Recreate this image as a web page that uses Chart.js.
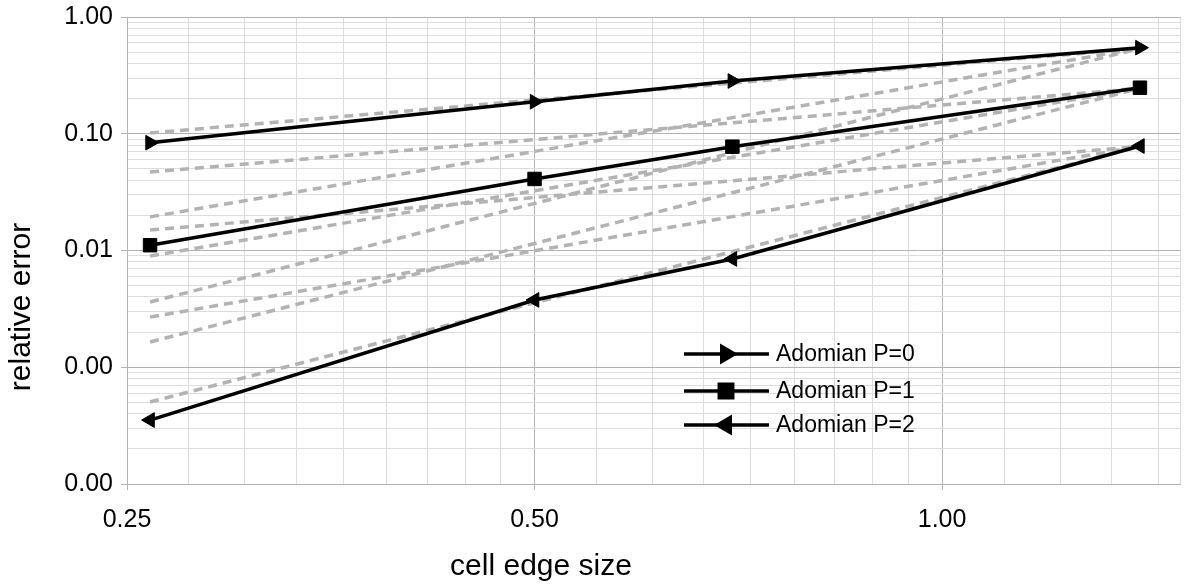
<!DOCTYPE html>
<html>
<head>
<meta charset="utf-8">
<script src="https://cdn.jsdelivr.net/npm/chart.js@4.4.1/dist/chart.umd.min.js"></script>
<style>
    html, body { margin: 0; padding: 0; background: #fff; }
    #grafico { display: block; }
</style>
</head>
<body>
<canvas id="grafico" width="1191" height="586"></canvas>
<script>
// datos
const tamanoCelda = [0.26, 0.5, 0.7, 1.4];
const errorP0 = [0.0838, 0.188, 0.283, 0.546];
const errorP1 = [0.0111, 0.0410, 0.0775, 0.248];
const errorP2 = [0.000353, 0.00377, 0.00846, 0.0785];
const nombres = ["Adomian P=0", "Adomian P=1", "Adomian P=2"];

// lineas de referencia (gris, discontinuas): valor en x=0.26 y en x=1.4
const xRef = [0.26, 1.4];
const refA = [0.1015, 0.54];
const refB = [0.0194, 0.54];
const refC = [0.00362, 0.54];
const refD = [0.0470, 0.245];
const refE = [0.00898, 0.245];
const refF = [0.001645, 0.245];
const refG = [0.0150, 0.078];
const refH = [0.00269, 0.078];
const refI = [0.000504, 0.078];

// ejes
const limitesX = [0.25, 1.5];
const limitesY = [0.0001, 1];
const ticksX = [0.25, 0.5, 1.0];
const etiquetasX = ["0.25", "0.50", "1.00"];
const ticksY = [0.0001, 0.001, 0.01, 0.1, 1];
const etiquetasY = ["0.00", "0.00", "0.01", "0.10", "1.00"];

const fuente = "'Liberation Sans', Arial, sans-serif";
const GRIS_MAYOR = "#b3b3b3";
const GRIS_MENOR = "#dddddd";

function puntos(xs, ys) {
    return xs.map((x, i) => ({ x, y: ys[i] }));
}

// ticks del eje x: mayores + 8 intermedios por octava (como LibreOffice)
function construirTicksX() {
    const t = [];
    ticksX.forEach((v, i) => {
        t.push({ value: v, major: true, etiqueta: etiquetasX[i] });
        for (let k = 1; k <= 8; k++) {
            const m = v * (1 + k / 9);
            if (m < limitesX[1]) t.push({ value: m, major: false, etiqueta: "" });
        }
    });
    t.push({ value: limitesX[1], major: false, etiqueta: "" });
    return t.sort((a, b) => a.value - b.value);
}

function construirTicksY() {
    const t = [];
    ticksY.forEach((v, i) => {
        t.push({ value: v, major: true, etiqueta: etiquetasY[i] });
        if (i < ticksY.length - 1) {
            for (let k = 2; k <= 9; k++) t.push({ value: v * k, major: false, etiqueta: "" });
        }
    });
    return t.sort((a, b) => a.value - b.value);
}

const lineaRef = (xs, ys) => ({
    data: puntos(xs, ys),
    borderColor: "#b3b3b3",
    borderWidth: 3.5,
    borderDash: [9, 6],
    pointRadius: 0,
    fill: false
});

const estilosSerie = [
    { pointStyle: "triangle", rotation: 90, pointRadius: 8.5 },
    { pointStyle: "rect", rotation: 0, pointRadius: 9.5 },
    { pointStyle: "triangle", rotation: -90, pointRadius: 8.5 }
];

const serie = (ys, i) => ({
    label: nombres[i],
    data: puntos(tamanoCelda, ys),
    borderColor: "#000",
    backgroundColor: "#000",
    borderWidth: 3.5,
    pointStyle: estilosSerie[i].pointStyle,
    rotation: estilosSerie[i].rotation,
    pointRadius: estilosSerie[i].pointRadius,
    pointBackgroundColor: "#000",
    pointBorderColor: "#000",
    pointBorderWidth: 1,
    fill: false
});

// titulos de ejes y leyenda dibujados a mano
const extras = {
    id: "extras",
    afterDraw(chart) {
        const ctx = chart.ctx;
        ctx.save();
        ctx.fillStyle = "#000";
        ctx.font = "30px " + fuente;
        ctx.textAlign = "center";
        ctx.textBaseline = "middle";
        ctx.fillText("cell edge size", 541, 567);
        ctx.save();
        ctx.translate(22, 307);
        ctx.rotate(-Math.PI / 2);
        ctx.fillText("relative error", 0, 0);
        ctx.restore();

        const filas = [354, 391, 425];
        filas.forEach((y, i) => {
            ctx.strokeStyle = "#000";
            ctx.fillStyle = "#000";
            ctx.lineWidth = 3.5;
            ctx.beginPath();
            ctx.moveTo(684, y);
            ctx.lineTo(769, y);
            ctx.stroke();
            Chart.helpers.drawPoint(ctx, {
                pointStyle: estilosSerie[i].pointStyle,
                rotation: estilosSerie[i].rotation,
                radius: estilosSerie[i].pointRadius,
                borderWidth: 1
            }, 726, y);
            ctx.font = "23px " + fuente;
            ctx.textAlign = "left";
            ctx.textBaseline = "middle";
            ctx.fillText(nombres[i], 776, y + 1);
        });
        ctx.restore();
    }
};

const ctx = document.getElementById("grafico").getContext("2d");
const grafico = new Chart(ctx, {
    type: "line",
    data: {
        datasets: [
            serie(errorP0, 0),
            serie(errorP1, 1),
            serie(errorP2, 2),
            lineaRef(xRef, refA),
            lineaRef(xRef, refB),
            lineaRef(xRef, refC),
            lineaRef(xRef, refD),
            lineaRef(xRef, refE),
            lineaRef(xRef, refF),
            lineaRef(xRef, refG),
            lineaRef(xRef, refH),
            lineaRef(xRef, refI)
        ]
    },
    options: {
        responsive: false,
        animation: false,
        devicePixelRatio: 1,
        tension: 0,
        layout: { padding: { top: 17, right: 6, left: 0, bottom: 0 } },
        plugins: {
            legend: { display: false },
            tooltip: { enabled: false }
        },
        scales: {
            x: {
                type: "logarithmic",
                min: limitesX[0],
                max: limitesX[1],
                afterBuildTicks: (s) => { s.ticks = construirTicksX(); },
                afterFit: (s) => { s.height = 102; s.paddingLeft = 0; s.paddingRight = 0; },
                ticks: {
                    autoSkip: false,
                    maxRotation: 0,
                    padding: 15,
                    color: "#000",
                    font: { family: fuente, size: 25 },
                    callback: (v, i, t) => t[i].etiqueta
                },
                grid: {
                    color: (c) => (c.tick && c.tick.major ? GRIS_MAYOR : GRIS_MENOR),
                    tickColor: (c) => (c.tick && c.tick.major ? GRIS_MAYOR : "rgba(0,0,0,0)"),
                    tickLength: 6,
                    lineWidth: 1
                },
                border: { color: GRIS_MAYOR, width: 1 }
            },
            y: {
                type: "logarithmic",
                min: limitesY[0],
                max: limitesY[1],
                afterBuildTicks: (s) => { s.ticks = construirTicksY(); },
                afterFit: (s) => { s.width = 127; s.paddingTop = 0; s.paddingBottom = 0; },
                ticks: {
                    autoSkip: false,
                    padding: 8,
                    color: "#000",
                    font: { family: fuente, size: 25 },
                    callback: (v, i, t) => t[i].etiqueta
                },
                grid: {
                    color: (c) => (c.tick && c.tick.major ? GRIS_MAYOR : GRIS_MENOR),
                    tickColor: (c) => (c.tick && c.tick.major ? GRIS_MAYOR : "rgba(0,0,0,0)"),
                    tickLength: 6,
                    lineWidth: 1
                },
                border: { color: GRIS_MAYOR, width: 1 }
            }
        }
    },
    plugins: [extras]
});
</script>
</body>
</html>
